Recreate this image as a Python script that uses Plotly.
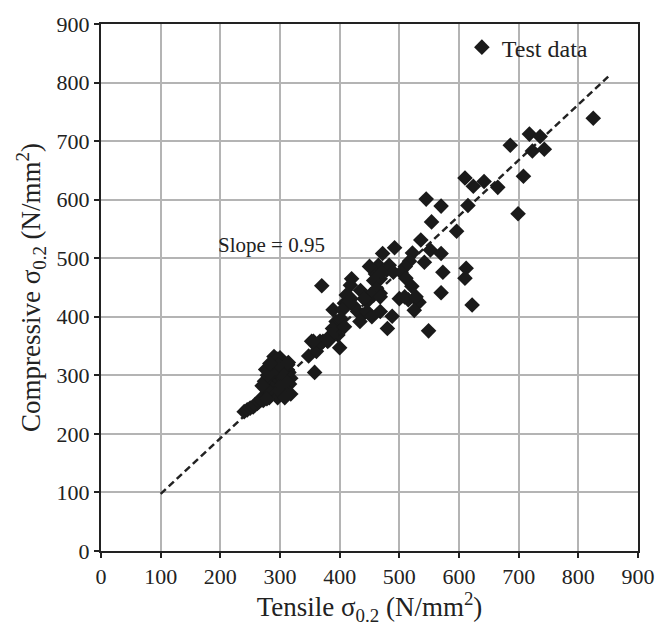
import plotly.graph_objects as go

# Test data: tensile vs compressive 0.2% proof strength (N/mm^2)
tensile = [
    825, 718, 736, 686, 723, 743, 708, 642, 665, 699,
    610, 624, 545, 570, 554, 615, 596,
    536, 492, 472, 552, 570, 522, 542, 517, 510, 503, 573, 612, 610,
    570, 521, 511, 500, 515, 533, 525, 622, 488, 480, 549,
    483, 465, 479, 490, 468, 460, 509, 528, 457, 468,
    450, 471, 370, 420, 418, 457, 462, 452, 468, 446, 435, 441, 419,
    408, 424, 389, 411, 413, 405, 430, 438, 446, 454, 468, 434, 394,
    402, 391, 397, 400, 383, 372, 353, 348, 361, 358, 402, 388, 408,
    386, 380, 367, 369, 378, 356,
    240, 245, 250, 255, 258, 262, 265, 268, 270, 272, 275, 278, 280,
    282, 284, 285, 287, 288, 290, 291, 292, 293, 294, 295, 296, 297,
    298, 300, 290, 288, 286, 300, 302, 304, 305, 306, 308, 305, 310,
    312, 315, 318, 316, 312, 303, 307, 300, 295, 298, 285, 283, 280,
    277, 292, 296, 300, 310, 290, 295, 305, 313, 302, 278, 287, 298,
    274, 279, 270, 276, 318, 314, 283, 308,
]
compressive = [
    739, 712, 708, 693, 683, 686, 640, 631, 621, 576,
    637, 623, 601, 589, 562, 590, 546,
    531, 518, 508, 514, 508, 509, 493, 495, 486, 476, 476, 483, 466,
    441, 452, 466, 431, 429, 425, 411, 420, 401, 380, 376,
    488, 488, 480, 476, 465, 473, 434, 434, 437, 440,
    486, 476, 453, 465, 454, 462, 448, 438, 434, 426, 445, 431, 431,
    423, 418, 412, 437, 423, 412, 409, 403, 409, 400, 409, 392, 392,
    386, 375, 369, 347, 361, 358, 358, 333, 341, 305, 397, 380, 383,
    369, 358, 358, 355, 361, 358,
    238, 241, 244, 246, 250, 252, 255, 258, 262, 257, 265, 268, 272,
    262, 276, 270, 280, 285, 290, 275, 295, 300, 305, 310, 315, 320,
    325, 330, 325, 318, 310, 300, 295, 290, 285, 280, 275, 268, 300,
    310, 305, 295, 285, 272, 318, 322, 312, 295, 280, 300, 290, 285,
    278, 268, 262, 272, 290, 332, 328, 312, 318, 305, 260, 305, 318,
    290, 300, 282, 310, 268, 322, 320, 262,
]

slope = 0.95
intercept = 2.5
line_x = [100, 850]
line_y = [slope * v + intercept for v in line_x]

x_ticks = list(range(0, 901, 100))
y_ticks = list(range(0, 901, 100))

FONT = "Liberation Serif, Times New Roman, serif"
INK = "#222222"

fig = go.Figure()
fig.add_trace(go.Scatter(
    x=line_x, y=line_y, mode="lines",
    line=dict(color=INK, width=2.5, dash="7px,4px"),
    showlegend=False, hoverinfo="skip",
))
fig.add_trace(go.Scatter(
    x=tensile, y=compressive, mode="markers", name="Test data",
    marker=dict(symbol="diamond", size=12, color="#1a1a1a", line=dict(width=0)),
))

fig.add_annotation(
    x=285, y=522, xref="x", yref="y", text="Slope = 0.95", showarrow=False,
    font=dict(family=FONT, size=21, color=INK),
)

axis_common = dict(
    range=[0, 900], showgrid=True, gridcolor="#b4b4b4", gridwidth=1.5,
    showline=True, linecolor=INK, linewidth=2, mirror=True,
    ticks="outside", ticklen=5, tickwidth=1.5, tickcolor=INK,
    tickfont=dict(family=FONT, size=22, color=INK),
    zeroline=False, fixedrange=True,
)

fig.update_xaxes(
    **axis_common, tickvals=x_ticks,
    title=dict(text="Tensile σ<sub>0.2</sub> (N/mm<sup>2</sup>)",
               font=dict(family=FONT, size=27, color=INK), standoff=6),
)
fig.update_yaxes(
    **axis_common, tickvals=y_ticks,
    title=dict(text="Compressive σ<sub>0.2</sub> (N/mm<sup>2</sup>)",
               font=dict(family=FONT, size=27, color=INK), standoff=8),
)

fig.update_layout(
    width=667, height=626,
    margin=dict(l=101, r=17, t=19, b=74),
    paper_bgcolor="white", plot_bgcolor="white",
    legend=dict(x=0.672, y=0.998, xanchor="left", yanchor="top",
                bgcolor="rgba(0,0,0,0)",
                font=dict(family=FONT, size=24, color=INK)),
    font=dict(family=FONT),
)

fig.write_html("out.html")
